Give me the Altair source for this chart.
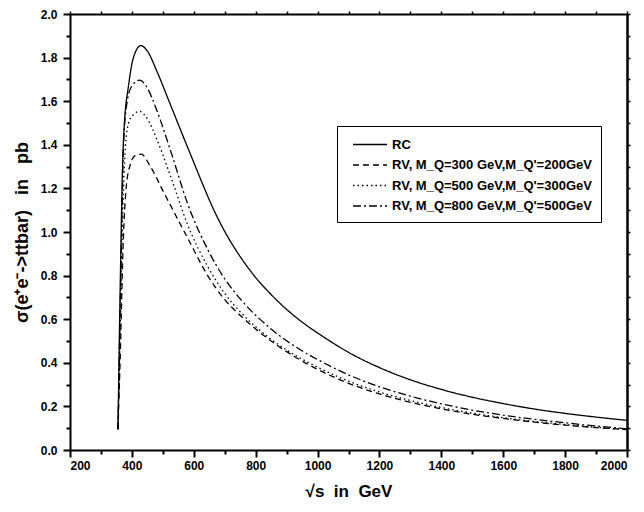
import altair as alt
import pandas as pd

series_names = [
    "RC",
    "RV, M_Q=300 GeV,M_Q'=200GeV",
    "RV, M_Q=500 GeV,M_Q'=300GeV",
    "RV, M_Q=800 GeV,M_Q'=500GeV",
]

rc_x = [355, 362, 371, 374, 390, 405, 429, 450, 480, 520, 586, 677, 785, 850, 968, 1000, 1100, 1200, 1300, 1400, 1500, 1600, 1700, 1800, 1900, 2000]
rc_y = [0.095, 0.73, 1.36, 1.455, 1.68, 1.80, 1.855, 1.83, 1.74, 1.60, 1.368, 1.065, 0.818, 0.713, 0.568, 0.537, 0.448, 0.378, 0.322, 0.278, 0.242, 0.213, 0.188, 0.168, 0.151, 0.136]

rv1_x = [355, 363, 371, 382, 395, 410, 430, 460, 500, 581, 645, 700, 752, 850, 925, 1000, 1100, 1200, 1300, 1400, 1500, 1600, 1700, 1800, 1900, 2000]
rv1_y = [0.095, 0.46, 0.91, 1.21, 1.31, 1.35, 1.357, 1.30, 1.19, 0.97, 0.80, 0.69, 0.615, 0.50, 0.429, 0.37, 0.306, 0.257, 0.219, 0.189, 0.164, 0.145, 0.128, 0.114, 0.103, 0.093]

rv2_x = [355, 363, 371, 382, 395, 425, 450, 480, 527, 580, 645, 700, 752, 850, 968, 1000, 1100, 1200, 1300, 1400, 1500, 1600, 1700, 1800, 1900, 2000]
rv2_y = [0.095, 0.60, 1.10, 1.44, 1.52, 1.553, 1.519, 1.427, 1.248, 1.034, 0.842, 0.718, 0.631, 0.508, 0.403, 0.38, 0.316, 0.266, 0.227, 0.195, 0.169, 0.148, 0.131, 0.117, 0.104, 0.094]

rv3_x = [355, 363, 374, 385, 400, 425, 450, 480, 527, 580, 645, 700, 752, 850, 968, 1000, 1100, 1200, 1300, 1400, 1500, 1600, 1700, 1800, 1900, 2000]
rv3_y = [0.095, 0.70, 1.43, 1.60, 1.67, 1.697, 1.66, 1.56, 1.364, 1.13, 0.92, 0.785, 0.69, 0.555, 0.44, 0.415, 0.345, 0.29, 0.247, 0.212, 0.183, 0.16, 0.141, 0.125, 0.11, 0.097]

x_tick_values = list(range(200, 2001, 100))
y_tick_values = [round(i * 0.1, 1) for i in range(0, 21)]

rows = []
for name, xs, ys in zip(series_names, [rc_x, rv1_x, rv2_x, rv3_x], [rc_y, rv1_y, rv2_y, rv3_y]):
    for a, b in zip(xs, ys):
        rows.append({"x": a, "y": b, "series": name})
df = pd.DataFrame(rows)

FONT = "Liberation Sans"
NB = "\u00a0"
x_major = "datum.value % 200 === 0"
y_major = "round(datum.value * 10) % 2 === 0"

x_scale = alt.Scale(domain=[200, 2000], nice=False, zero=False)
y_scale = alt.Scale(domain=[0, 2.0], nice=False, zero=False)

common_axis = dict(
    domainColor="black", domainWidth=2, tickColor="black", tickWidth=2,
    labelFont=FONT, labelFontWeight="bold", labelFontSize=12, labelColor="black",
    titleFont=FONT, titleFontWeight="bold", titleColor="black",
    grid=False,
)

lines = alt.Chart(df).mark_line(color="black", strokeWidth=1.3, interpolate="monotone").encode(
    x=alt.X("x:Q", scale=x_scale,
            axis=alt.Axis(values=x_tick_values, title=f"√s{NB}{NB}in{NB}{NB}GeV",
                          titleFontSize=17,
                          labelExpr=f"{x_major} ? format(datum.value, 'd') : ''",
                          tickSize={"condition": {"test": x_major, "value": 7}, "value": 4},
                          labelPadding=3, titlePadding=12, **common_axis)),
    y=alt.Y("y:Q", scale=y_scale,
            axis=alt.Axis(values=y_tick_values,
                          title=f"σ(e⁺e⁻->ttbar){NB}{NB}{NB}in{NB}{NB}{NB}pb",
                          titleFontSize=18,
                          labelExpr=f"{y_major} ? format(datum.value, '.1f') : ''",
                          tickSize={"condition": {"test": y_major, "value": 7}, "value": 4},
                          labelPadding=6, titlePadding=9, **common_axis)),
    strokeDash=alt.StrokeDash(
        "series:N",
        scale=alt.Scale(domain=series_names,
                        range=[[1, 0], [6, 4], [1.5, 3], [8, 3, 2, 3]]),
        legend=alt.Legend(
            title=None, orient="none", legendX=267, legendY=112,
            strokeColor="black", fillColor="white", padding=9, symbolOffset=6,
            symbolType="M-1,0H3", symbolSize=289, symbolStrokeColor="black",
            symbolStrokeWidth=1.3, labelFont=FONT, labelFontWeight="bold",
            labelFontSize=13, labelColor="black", labelLimit=400,
            rowPadding=3.5, labelOffset=21,
        ),
    ),
    order=alt.Order("x:Q"),
)

mirror = alt.Chart(df).mark_point(opacity=0).encode(
    x=alt.X("x:Q", scale=x_scale,
            axis=alt.Axis(orient="top", values=x_tick_values, labels=False, title=None,
                          tickSize=3, domainColor="black", domainWidth=2,
                          tickColor="black", tickWidth=1.5, grid=False)),
    y=alt.Y("y:Q", scale=y_scale,
            axis=alt.Axis(orient="right", values=y_tick_values, labels=False, title=None,
                          tickSize=3, domainColor="black", domainWidth=2.5,
                          tickColor="black", tickWidth=1.5, grid=False)),
)

chart = alt.layer(lines, mirror).resolve_scale(x="independent", y="independent").properties(
    width=557, height=436,
    padding={"left": 5, "top": 0, "right": 3, "bottom": 5},
    background="white",
).configure_view(stroke=None)

chart.save("out.html", embed_options={"renderer": "svg", "actions": False})
